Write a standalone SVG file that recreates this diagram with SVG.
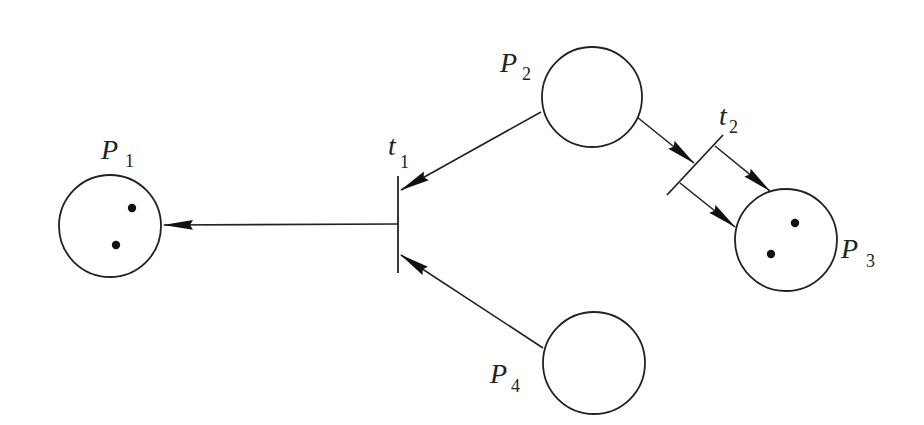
<svg xmlns="http://www.w3.org/2000/svg" width="924" height="425" viewBox="0 0 924 425">
<style>
.place{fill:#fff;stroke:#222;stroke-width:1.8}
.tok{fill:#111}
.bar{stroke:#222;stroke-width:1.8;fill:none}
.arc{stroke:#222;stroke-width:1.6;fill:none;marker-end:url(#ah)}
.lbl{font-family:"Liberation Serif",serif;font-style:italic;font-size:28px;fill:#222}
.sub{font-family:"Liberation Serif",serif;font-style:normal;font-size:18px;fill:#222}
</style>
<defs>
<marker id="ah" markerUnits="userSpaceOnUse" markerWidth="30" markerHeight="11" viewBox="0 0 30 11" refX="29" refY="5.5" orient="auto">
<path d="M0,0.5 L30,5.5 L0,10.5 L3,5.5 z" fill="#111"/>
</marker>
</defs>
<rect width="924" height="425" fill="#fff"/>
<g id="connectors">
<line class="arc" x1="398" y1="224" x2="164" y2="225"/>
<line class="arc" x1="541" y1="112" x2="401" y2="190"/>
<line class="arc" x1="543" y1="348" x2="401" y2="255"/>
<line class="arc" x1="637" y1="117" x2="694" y2="163"/>
<line class="arc" x1="715" y1="146" x2="770" y2="191"/>
<line class="arc" x1="680" y1="183" x2="735" y2="227"/>
</g>
<g id="P1">
<circle class="place" cx="110" cy="226" r="51"/>
<circle class="tok" cx="132" cy="208" r="4.2"/>
<circle class="tok" cx="116" cy="245" r="4.2"/>
<text class="lbl" x="101" y="159">P</text><text class="sub" x="125" y="167">1</text>
</g>
<g id="P2">
<circle class="place" cx="592" cy="97" r="50"/>
<text class="lbl" x="500" y="72">P</text><text class="sub" x="522" y="80">2</text>
</g>
<g id="P3">
<circle class="place" cx="786" cy="240" r="51"/>
<circle class="tok" cx="795" cy="223" r="4.2"/>
<circle class="tok" cx="771" cy="254" r="4.2"/>
<text class="lbl" x="841" y="258">P</text><text class="sub" x="866" y="267">3</text>
</g>
<g id="P4">
<circle class="place" cx="594" cy="363" r="51"/>
<text class="lbl" x="490" y="383">P</text><text class="sub" x="511" y="392">4</text>
</g>
<g id="t1">
<line class="bar" x1="398" y1="176" x2="398" y2="273"/>
<text class="lbl" x="388" y="155">t</text><text class="sub" x="400" y="168">1</text>
</g>
<g id="t2">
<line class="bar" x1="667" y1="195" x2="723" y2="135"/>
<text class="lbl" x="719" y="125">t</text><text class="sub" x="729" y="133">2</text>
</g>
</svg>
